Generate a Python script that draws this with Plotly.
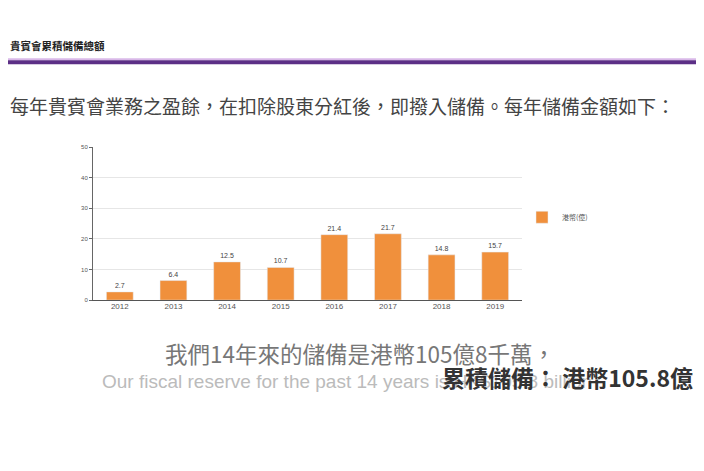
import plotly.graph_objects as go

# the page puts the figure 8px in from the top-left corner of the window
OFFSET = 8
W, H = 704 - 2 * OFFSET, 471 - 2 * OFFSET

years = ['2012', '2013', '2014', '2015', '2016', '2017', '2018', '2019']
reserve = [2.7, 6.4, 12.5, 10.7, 21.4, 21.7, 14.8, 15.7]
y_ticks = [0, 10, 20, 30, 40, 50]

page_title = '貴賓會累積儲備總額'
intro = '每年貴賓會業務之盈餘，在扣除股東分紅後，即撥入儲備。每年儲備金額如下：'
sub_zh = '我們14年來的儲備是港幣105億8千萬，'
sub_en = 'Our fiscal reserve for the past 14 years is HK$105.8 billion'
caption = '累積儲備： 港幣105.8億'

cjk = 'Noto Sans CJK TC'


def px(x):
    """Window x (px) -> paper x."""
    return (x - OFFSET) / W


def py(y):
    """Window y (px, from top) -> paper y."""
    return 1 - (y - OFFSET) / H


fig = go.Figure()

fig.add_trace(go.Bar(
    x=years,
    y=reserve,
    name='港幣(億)',
    marker=dict(color='#f0903c'),
    text=[f'{v}' for v in reserve],
    textposition='outside',
    textfont=dict(size=7, color='#444', family='Arial'),
    cliponaxis=False,
))

fig.update_layout(
    width=W,
    height=H,
    margin=dict(l=0, r=0, t=0, b=0),
    paper_bgcolor='white',
    plot_bgcolor='white',
    bargap=0.5,
    showlegend=True,
    legend=dict(
        x=px(522), y=py(217), xanchor='left', yanchor='middle',
        font=dict(size=7, color='#555', family=cjk),
        itemwidth=30,
    ),
    xaxis=dict(
        domain=[px(93), px(522)],
        showline=True, linecolor='#555', linewidth=1,
        tickfont=dict(size=8, color='#555', family='Arial'),
        ticks='', ticklen=0,
        ticklabelstandoff=-2,
    ),
    yaxis=dict(
        domain=[py(301), py(146)],
        range=[0, 50],
        tickvals=y_ticks,
        showline=True, linecolor='#666', linewidth=1,
        ticks='outside', ticklen=3, tickcolor='#666',
        tickfont=dict(size=6, color='#555', family='Arial'),
        showgrid=True, gridcolor='#e6e6e6', gridwidth=1,
        zeroline=False,
    ),
)

# header band
fig.add_shape(type='line', xref='paper', yref='paper',
              x0=0, x1=1, y0=py(57), y1=py(57),
              line=dict(color='#d9b8e8', width=2))
fig.add_shape(type='line', xref='paper', yref='paper',
              x0=0, x1=1, y0=py(60), y1=py(60),
              line=dict(color='#5c2f86', width=4))

fig.add_annotation(text=f'<b>{page_title}</b>', xref='paper', yref='paper',
                   x=px(8), y=py(43), xanchor='left', yanchor='middle',
                   showarrow=False, font=dict(size=10.5, color='#222', family=cjk))

fig.add_annotation(text=intro, xref='paper', yref='paper',
                   x=px(8), y=py(104), xanchor='left', yanchor='middle',
                   showarrow=False, font=dict(size=19, color='#444', family=cjk))

# subtitles burnt over the slide (they overlap in the source too)
fig.add_annotation(text=sub_zh, xref='paper', yref='paper',
                   x=px(163), y=py(355), xanchor='left', yanchor='middle',
                   showarrow=False, font=dict(size=22.5, color='#777', family=cjk))
fig.add_annotation(text=sub_en, xref='paper', yref='paper',
                   x=px(100), y=py(383), xanchor='left', yanchor='middle',
                   showarrow=False, font=dict(size=19, color='#bbb', family='Arial'))
fig.add_annotation(text=f'<b>{caption}</b>', xref='paper', yref='paper',
                   x=px(695), y=py(379), xanchor='right', yanchor='middle',
                   showarrow=False, font=dict(size=23, color='#333', family=cjk))

fig.write_html('out.html')
